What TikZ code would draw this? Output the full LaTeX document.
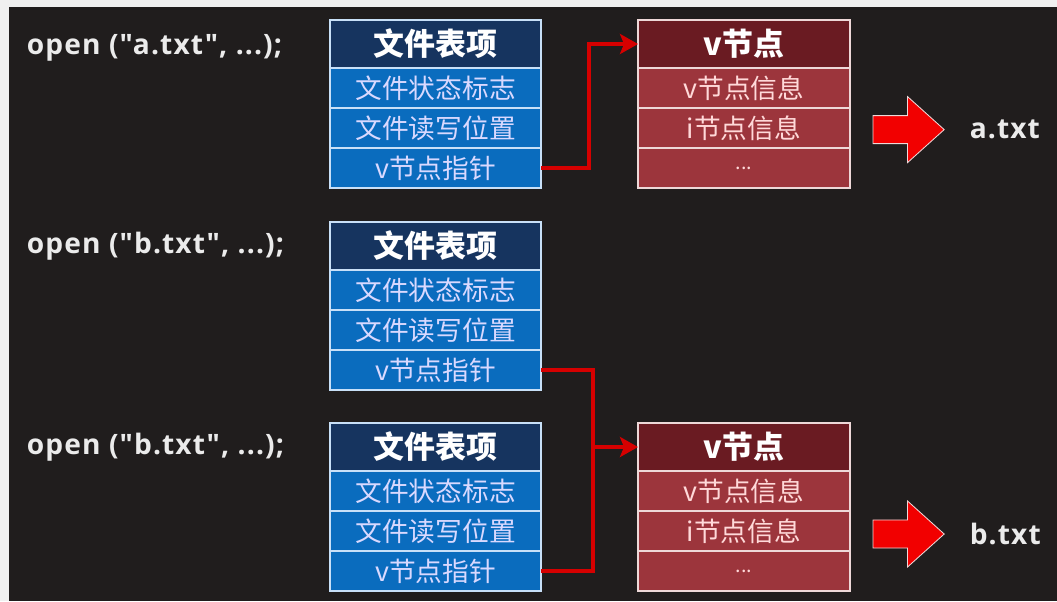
\documentclass[tikz,border=0pt]{standalone}
\usepackage{fontspec}
\setmainfont{Open Sans}
\newfontfamily\callfont[LetterSpace=4]{Open Sans}
\newfontfamily\cjk{Noto Sans CJK SC}
\usepackage{tikz}
\usetikzlibrary{shapes, arrows.meta, positioning, calc}

\definecolor{bgdark}{RGB}{32,29,29}
\definecolor{bluehead}{RGB}{22,52,95}
\definecolor{bluecell}{RGB}{10,108,190}
\definecolor{blueline}{RGB}{200,224,248}
\definecolor{redhead}{RGB}{106,27,34}
\definecolor{redcell}{RGB}{156,53,60}
\definecolor{redline}{RGB}{238,216,216}
\definecolor{linkred}{RGB}{214,0,0}

\begin{document}
\begin{tikzpicture}[head/.style = {draw=blueline, line width=1pt, fill=bluehead, text=white, minimum width=5.275cm, minimum height=1.2cm, outer sep=0pt, font=\cjk\bfseries\fontsize{22}{26}\selectfont},
        cell/.style = {draw=blueline, line width=1pt, fill=bluecell, text=white!85!blue, minimum width=5.275cm, minimum height=1cm, outer sep=0pt, font=\cjk\fontsize{19}{22}\selectfont},
        vhead/.style = {head, draw=redline, fill=redhead, minimum width=5.3cm},
        vcell/.style = {cell, draw=redline, fill=redcell, text=white!85!red, minimum width=5.3cm},
        dots/.style = {vcell, font=\cjk\fontsize{14}{16}\selectfont, text depth=-0.12cm},
        call/.style = {anchor=west, text=white!92!black, font=\callfont\bfseries\fontsize{20}{24}\selectfont},
        big/.style = {single arrow, draw=redline, line width=0.6pt, fill=red!95!black, minimum height=1.78cm, minimum width=1.62cm, single arrow head extend=0.475cm, single arrow tip angle=84, inner sep=0.34cm},
        link/.style = {draw=linkred, line width=2.8pt},
        tip/.style = {-{Stealth[length=0.45cm, width=0.5cm, inset=0.1cm]}}]
                \useasboundingbox (0, 0) rectangle (26.425, -15.025);
                \fill[white!94!black] (0, 0) rectangle (26.425, -15.025);
                \fill[bgdark] (0.225, -0.175) rectangle (26.425, -15.025);

                % open calls
                \node[call] at (0.55, -1.2) (o1) {open (\symbol{34}a.txt\symbol{34}, ...);};
                \node[call] at (0.55, -6.15) (o2) {open (\symbol{34}b.txt\symbol{34}, ...);};
                \node[call] at (0.55, -11.17) (o3) {open (\symbol{34}b.txt\symbol{34}, ...);};

                % file table entries
                \node[head] at (10.89, -1.1) (A0) {文件表项};
                \node[cell, below=0pt of A0] (A1) {文件状态标志};
                \node[cell, below=0pt of A1] (A2) {文件读写位置};
                \node[cell, below=0pt of A2] (A3) {v节点指针};

                \node[head] at (10.89, -6.15) (B0) {文件表项};
                \node[cell, below=0pt of B0] (B1) {文件状态标志};
                \node[cell, below=0pt of B1] (B2) {文件读写位置};
                \node[cell, below=0pt of B2] (B3) {v节点指针};

                \node[head] at (10.89, -11.175) (C0) {文件表项};
                \node[cell, below=0pt of C0] (C1) {文件状态标志};
                \node[cell, below=0pt of C1] (C2) {文件读写位置};
                \node[cell, below=0pt of C2] (C3) {v节点指针};

                % v nodes
                \node[vhead] at (18.6, -1.1) (VA0) {v节点};
                \node[vcell, below=0pt of VA0] (VA1) {v节点信息};
                \node[vcell, below=0pt of VA1] (VA2) {i节点信息};
                \node[dots, below=0pt of VA2] (VA3) {...};

                \node[vhead] at (18.6, -11.175) (VB0) {v节点};
                \node[vcell, below=0pt of VB0] (VB1) {v节点信息};
                \node[vcell, below=0pt of VB1] (VB2) {i节点信息};
                \node[dots, below=0pt of VB2] (VB3) {...};

                % files
                \node[big] at (22.52, -3.24) (FA) {};
                \node[big] at (22.52, -13.35) (FB) {};
                \node[call, right=0.5cm of FA] (ta) {a.txt};
                \node[call, right=0.5cm of FB] (tb) {b.txt};

                % pointers
                \coordinate (ka) at ($(A3.east) + (1.2, 0)$);
                \coordinate (kb) at ($(B3.east) + (1.3, 0)$);
                \draw [link, tip] (A3.east) -- (ka) |- (VA0.west);
                \draw [link] (B3.east) -- (kb) |- (C3.east);
                \draw [link, tip] (kb |- VB0.west) -- (VB0.west);
                \end{tikzpicture}
\end{document}
